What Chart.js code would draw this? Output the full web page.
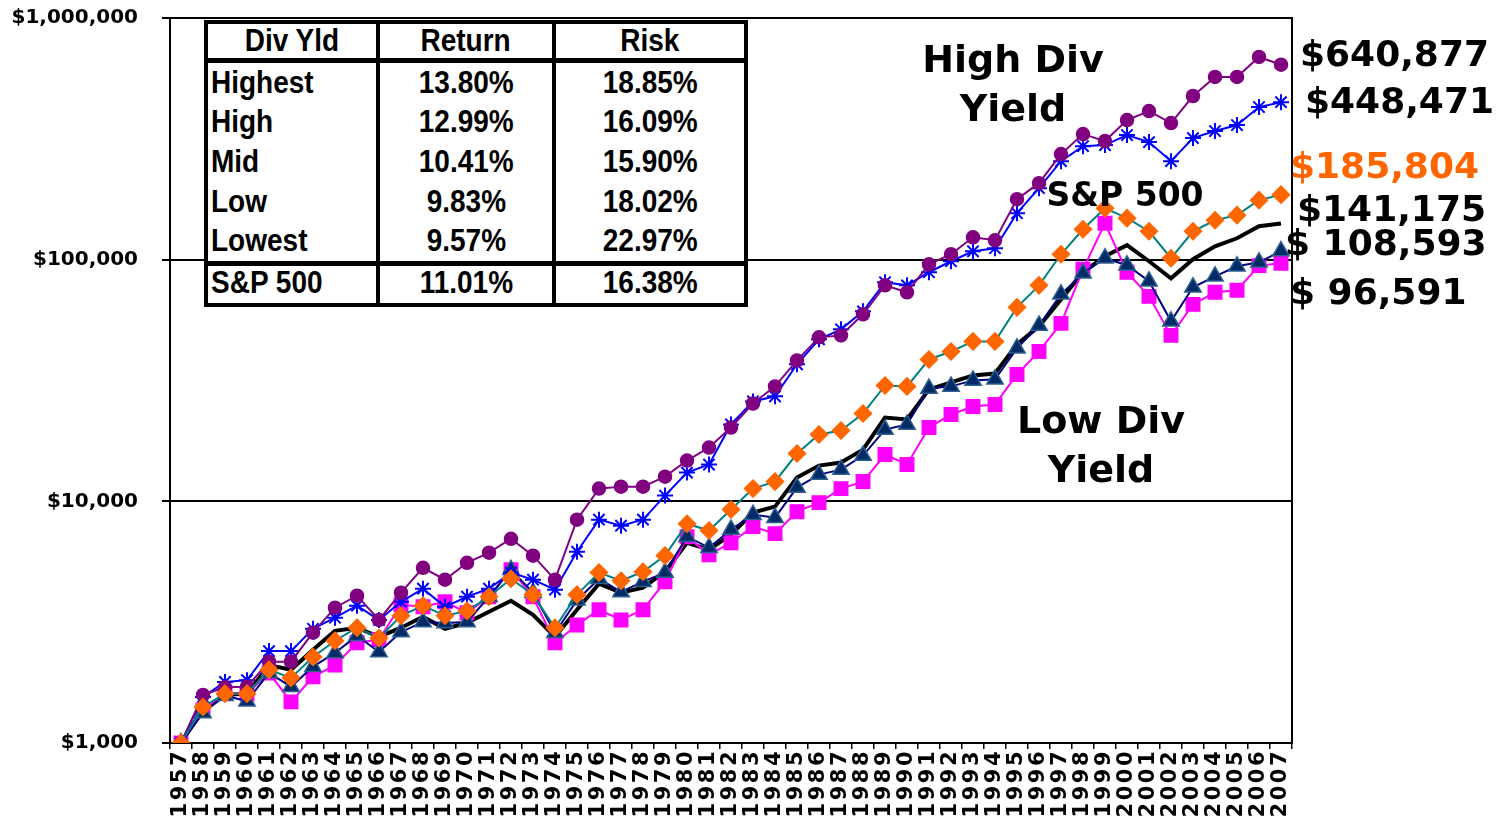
<!DOCTYPE html>
<html>
<head>
<meta charset="utf-8">
<script src="https://cdn.jsdelivr.net/npm/chart.js@4.4.1/dist/chart.umd.min.js"></script>
<style>
  html, body { margin: 0; padding: 0; background: #ffffff; }
  #wrap { position: relative; width: 1507px; height: 823px; overflow: hidden; }
  #c { position: absolute; left: 0; top: 0; }
  .ann { position: absolute; font-family: "DejaVu Sans", sans-serif; font-weight: bold; color: #000; white-space: nowrap; line-height: 1; }
  .ctr { transform: translate(-50%, -50%); text-align: center; }
  .lft { transform: translateY(-50%); }
  #tbl { position: absolute; left: 204px; top: 20px; border-collapse: collapse; background: #fff;
         font-family: "Liberation Sans", Arial, sans-serif; font-weight: bold; font-size: 32px; color: #000; }
  #tbl td { padding: 0 3px; line-height: 1; white-space: nowrap; border-left: 4px solid #000; border-right: 4px solid #000; }
  #tbl td span { display: inline-block; transform: scaleX(0.875); position: relative; top: -1px; }
  #tbl td.n span { transform-origin: 0 50%; }
  #tbl td.v span, #tbl tr.h td span { transform-origin: 50% 50%; }
  #tbl tr.h td { height: 34px; text-align: center; border-top: 4px solid #000; border-bottom: 5px solid #000; }
  #tbl tr.b td { height: 39.6px; }
  #tbl tr.s td { height: 37px; border-top: 5px solid #000; border-bottom: 4px solid #000; }
  #tbl tr.s td span { top: -2px; }
  #tbl td.n { text-align: left; }
  #tbl td.v { text-align: center; }
</style>
</head>
<body>
<div id="wrap">
  <canvas id="c" width="1507" height="823"></canvas>
  <table id="tbl"></table>
  <div id="anns"></div>
</div>
<script>
const years = ['1957','1958','1959','1960','1961','1962','1963','1964','1965','1966','1967','1968','1969','1970','1971','1972','1973','1974','1975','1976','1977','1978','1979','1980','1981','1982','1983','1984','1985','1986','1987','1988','1989','1990','1991','1992','1993','1994','1995','1996','1997','1998','1999','2000','2001','2002','2003','2004','2005','2006','2007'];

const highest = [1000,1580,1700,1710,2170,2170,2860,3630,4070,3230,4190,5310,4740,5570,6130,7000,5960,4740,8400,11290,11500,11500,12650,14750,16700,20200,25400,29900,38300,47700,48600,59400,78300,73300,95700,105300,123800,120300,178000,207300,273400,331000,309500,378000,412000,367500,475600,570000,570000,690000,640877];
const high = [1000,1550,1790,1820,2400,2400,2970,3300,3700,3230,3840,4350,3660,4030,4350,5070,4740,4310,6190,8400,7930,8400,10560,13150,14200,20800,25900,27200,36900,46800,51500,61100,80600,78300,88700,98500,108300,111500,155700,197700,255700,295000,298000,327800,306600,255700,318500,340500,360600,428000,448471];
const mid = [1000,1410,1600,1600,2010,1860,2270,2650,3000,2720,3360,3700,3360,3520,4030,4780,4110,3000,4110,5070,4690,5110,5960,8080,7570,9250,11290,12070,15770,18900,19640,23080,30160,29900,38650,41700,45900,45900,63500,78300,105300,133600,163300,148500,131100,101400,131100,145600,152800,176300,185804];
const low = [1000,1330,1570,1490,1950,1710,2070,2360,2780,2380,2880,3170,3140,3170,4030,5210,4190,2860,3900,4780,4220,4650,5070,7140,6430,7640,8810,8560,11400,12900,13530,15460,19820,20800,29300,29900,31650,32000,42950,53460,71900,87850,101400,94800,81400,55560,76860,85350,93900,97500,108593];
const lowest = [1000,1370,1610,1600,1950,1480,1880,2100,2600,2680,3730,3660,3840,3460,4030,5210,4030,2600,3080,3560,3230,3560,4650,7140,6010,6740,7860,7350,9060,9880,11290,12070,15620,14200,20200,22870,24680,25170,33500,41700,54500,91200,141500,88700,70500,48600,65300,73300,74700,94500,96591];
const sp500 = [1000,1380,1580,1600,2100,2010,2430,2910,3000,2750,3000,3330,2970,3140,3490,3880,3390,2750,3560,4560,4190,4390,5110,6740,6310,7280,8980,9510,12540,14060,14470,16370,22220,21810,29040,31040,33190,33800,44600,52950,68500,88700,103300,114800,98500,83700,100400,113600,122600,137500,141175];

const yTickValues = [1000, 10000, 100000, 1000000];
const yTickLabels = ['$1,000', '$10,000', '$100,000', '$1,000,000'];

const tableHeader = ['Div Yld', 'Return', 'Risk'];
const tableNames = ['Highest', 'High', 'Mid', 'Low', 'Lowest'];
const tableReturns = ['13.80%', '12.99%', '10.41%', '9.83%', '9.57%'];
const tableRisks = ['18.85%', '16.09%', '15.90%', '18.02%', '22.97%'];
const tableSp = ['S&P 500', '11.01%', '16.38%'];

const endLabels = ['$640,877', '$448,471', '$185,804', '$141,175', '$ 108,593', '$ 96,591'];
const groupLabels = [['High Div', 'Yield'], ['S&P 500'], ['Low Div', 'Yield']];

// ---- table ----
(function () {
  const t = document.getElementById('tbl');
  const esc = s => s.replace('&', '&amp;');
  const sp = s => '<span>' + esc(s) + '</span>';
  let html = '<colgroup><col style="width:172px"><col style="width:176px"><col style="width:192px"></colgroup>';
  html += '<tr class="h">' + tableHeader.map(h => '<td>' + sp(h) + '</td>').join('') + '</tr>';
  for (let i = 0; i < tableNames.length; i++) {
    html += '<tr class="b"><td class="n">' + sp(tableNames[i]) + '</td><td class="v">' + sp(tableReturns[i]) + '</td><td class="v">' + sp(tableRisks[i]) + '</td></tr>';
  }
  html += '<tr class="s"><td class="n">' + sp(tableSp[0]) + '</td><td class="v">' + sp(tableSp[1]) + '</td><td class="v">' + sp(tableSp[2]) + '</td></tr>';
  t.innerHTML = html;
})();

// ---- annotations ----
(function () {
  const a = document.getElementById('anns');
  const add = (txt, cls, style) => {
    const d = document.createElement('div');
    d.className = 'ann ' + cls;
    d.textContent = txt;
    d.setAttribute('style', style);
    a.appendChild(d);
  };
  add(groupLabels[0][0], 'ctr', 'left:1013px;top:59px;font-size:38px;');
  add(groupLabels[0][1], 'ctr', 'left:1013px;top:108px;font-size:38px;');
  add(groupLabels[1][0], 'ctr', 'left:1125px;top:194px;font-size:33px;');
  add(groupLabels[2][0], 'ctr', 'left:1101px;top:420px;font-size:38px;');
  add(groupLabels[2][1], 'ctr', 'left:1101px;top:469px;font-size:38px;');
  const pos = [[1300, 54, '#000'], [1305, 101, '#000'], [1290, 166, '#FF6600'], [1297, 209, '#000'], [1285, 243, '#000'], [1290, 292, '#000']];
  endLabels.forEach((t, i) => add(t, 'lft', 'left:' + pos[i][0] + 'px;top:' + pos[i][1] + 'px;font-size:36px;color:' + pos[i][2] + ';'));
})();

// ---- chart ----
const spacingPlugin = {
  id: 'xLetterSpacing',
  beforeDraw(chart) {
    const s = chart.scales.x;
    if (s && !s._lsPatched) {
      const orig = s.drawLabels;
      s.drawLabels = function (area) {
        const c = this.ctx;
        c.save();
        c.letterSpacing = '2.5px';
        orig.call(this, area);
        c.restore();
      };
      s._lsPatched = true;
    }
  }
};

const ds = (label, data, o) => Object.assign({ label, data, borderWidth: 2, pointBorderWidth: 1.5, tension: 0, fill: false }, o);

new Chart(document.getElementById('c'), {
  type: 'line',
  data: {
    labels: years,
    datasets: [
      ds('S&P 500', sp500, { borderColor: '#000000', borderWidth: 4, pointRadius: 0, order: 6 }),
      ds('Lowest', lowest, { borderColor: '#FF00FF', pointStyle: 'rect', pointRadius: 9.5, pointBackgroundColor: '#FF00FF', pointBorderColor: '#FF00FF', order: 5 }),
      ds('Low', low, { borderColor: '#000080', pointStyle: 'triangle', pointRadius: 9.5, pointBackgroundColor: '#002B66', pointBorderColor: '#2F5F8F', order: 4 }),
      ds('High', high, { borderColor: '#0000FF', pointStyle: 'star', pointRadius: 8, pointBorderWidth: 2, pointBackgroundColor: '#0000FF', pointBorderColor: '#0000FF', order: 3 }),
      ds('Highest', highest, { borderColor: '#800080', pointStyle: 'circle', pointRadius: 6.5, pointBackgroundColor: '#800080', pointBorderColor: '#800080', order: 2 }),
      ds('Mid', mid, { borderColor: '#008080', pointStyle: 'rectRot', pointRadius: 8.5, pointBackgroundColor: '#FF6600', pointBorderColor: '#FF6600', order: 1 })
    ]
  },
  options: {
    responsive: false,
    animation: false,
    devicePixelRatio: 1,
    layout: { padding: { left: 0, right: 215, top: 18, bottom: 0 } },
    plugins: { legend: { display: false }, tooltip: { enabled: false }, title: { display: false } },
    scales: {
      x: {
        type: 'category',
        offset: true,
        grid: { display: true, drawOnChartArea: false, offset: true, color: '#000', lineWidth: 1.5, tickLength: 6, tickWidth: 1.5 },
        border: { display: true, color: '#000', width: 2 },
        ticks: { autoSkip: false, minRotation: 90, maxRotation: 90, padding: 0, color: '#000',
                 font: { family: 'DejaVu Sans', weight: 'bold', size: 21 } },
        afterFit(s) { s.height = 80; s.paddingLeft = 0; s.paddingRight = 0; }
      },
      y: {
        type: 'logarithmic',
        min: 1000,
        max: 1000000,
        afterBuildTicks(s) { s.ticks = yTickValues.map(v => ({ value: v })); },
        grid: { color: '#000', lineWidth: 2, tickLength: 8, drawTicks: true },
        border: { display: true, color: '#000', width: 2 },
        ticks: { padding: 24, color: '#000', font: { family: 'DejaVu Sans', weight: 'bold', size: 20 },
                 callback: (v) => { const i = yTickValues.indexOf(v); return i >= 0 ? yTickLabels[i] : ''; } },
        afterFit(s) { s.width = 170; s.paddingTop = 0; s.paddingBottom = 0; }
      },
      y2: {
        type: 'linear',
        position: 'right',
        min: 0, max: 1,
        grid: { display: false, drawTicks: false },
        border: { display: true, color: '#000', width: 2 },
        ticks: { display: false },
        afterFit(s) { s.width = 0; s.paddingTop = 0; s.paddingBottom = 0; }
      }
    }
  },
  plugins: [spacingPlugin]
});
</script>
</body>
</html>
